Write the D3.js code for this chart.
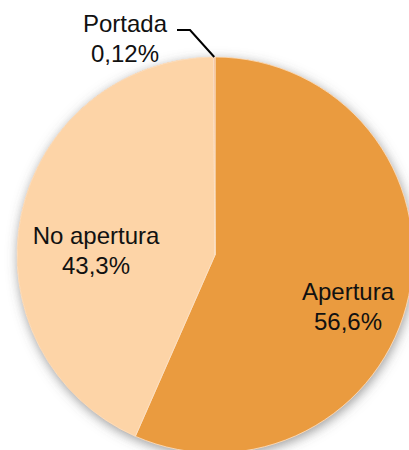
<html>
<script src='https://d3js.org/d3.v7.min.js'></script>
<style>
body {margin: 0; background: #fff;}
text {font-family: 'Liberation Sans', Arial, sans-serif; font-size: 24px; fill: #111;}
</style>
<body onload='init()'>
<svg width=409 height=450></svg>
<script>
// chart values
const categories = ['Apertura', 'No apertura', 'Portada'];
const values = [56.6, 43.3, 0.12];
const valueLabels = ['56,6%', '43,3%', '0,12%'];
const colors = ['#EA9B3F', '#FDD4A7', '#F2B38E'];

function init() {
const cx = 215, cy = 255, radius = 198;
const svg = d3.select('svg');

const defs = svg.append('defs');
const f = defs.append('filter').attr('id', 'shadow')
    .attr('x', '-20%').attr('y', '-20%').attr('width', '140%').attr('height', '140%');
f.append('feDropShadow')
    .attr('dx', 1).attr('dy', 3).attr('stdDeviation', 6)
    .attr('flood-color', '#555').attr('flood-opacity', 0.6);

const data = categories.map((c, i) => ({name: c, value: values[i], label: valueLabels[i], color: colors[i]}));

const pie = d3.pie().sort(null).value(d => d.value);
const arc = d3.arc().innerRadius(0).outerRadius(radius);
const arcs = pie(data);

const g = svg.append('g').attr('transform', 'translate(' + cx + ',' + cy + ')');

g.append('circle').attr('r', radius).attr('fill', '#EA9B3F').attr('filter', 'url(#shadow)');

g.selectAll('path.slice')
  .data(arcs)
  .enter()
  .append('path')
    .attr('class', 'slice')
    .attr('d', arc)
    .attr('fill', d => d.data.color)
    .attr('stroke', '#FBE3CB')
    .attr('stroke-width', 0.8);

// label anchors (first baseline of the two-line label, relative to pie centre)
const labelPos = {
  'Apertura': [133, 45],
  'No apertura': [-119, -11],
  'Portada': [-90, -223]
};

const labels = g.selectAll('text.lbl')
  .data(arcs)
  .enter()
  .append('text')
    .attr('class', 'lbl')
    .attr('text-anchor', 'middle')
    .attr('x', d => labelPos[d.data.name][0])
    .attr('y', d => labelPos[d.data.name][1]);
labels.append('tspan')
    .attr('x', d => labelPos[d.data.name][0])
    .text(d => d.data.name);
labels.append('tspan')
    .attr('x', d => labelPos[d.data.name][0])
    .attr('dy', 29.5)
    .text(d => d.data.label);

// leader line for the tiny slice
const small = arcs[2];
const mid = (small.startAngle + small.endAngle) / 2;
const px = radius * Math.sin(mid), py = -radius * Math.cos(mid);
g.append('polyline')
  .attr('points', [[-38, -225], [-25, -225], [px, py]].map(p => p.join(',')).join(' '))
  .attr('fill', 'none')
  .attr('stroke', '#000')
  .attr('stroke-width', 2);
}
</script>
</body>
</html>
